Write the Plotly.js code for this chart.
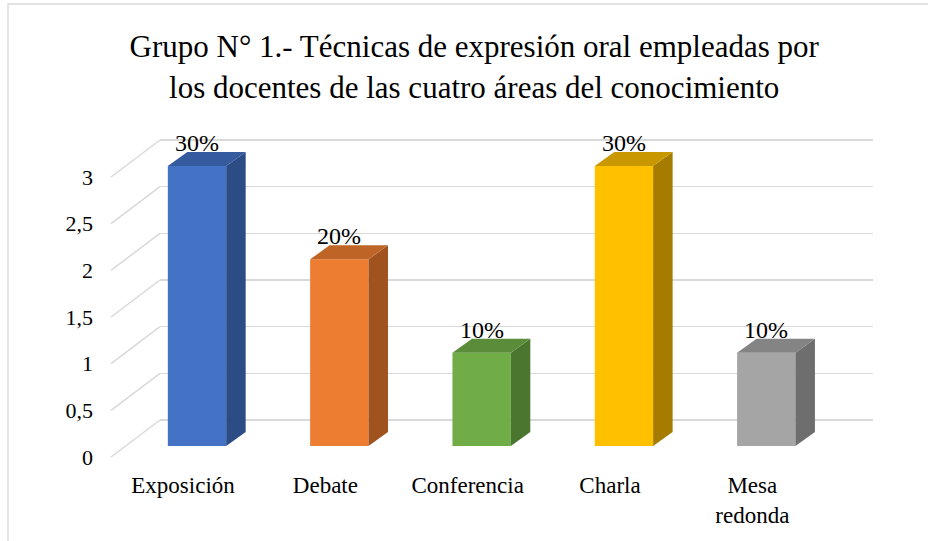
<!DOCTYPE html>
<html>
<head>
<meta charset="utf-8">
<script src="https://cdn.plot.ly/plotly-3.0.1.min.js"></script>
<style>html,body{margin:0;padding:0;background:#fff;}#chart{width:928px;height:541px;}</style>
</head>
<body>
<div id="chart"></div>
<script>
// ---- data ----
const categories = ['Exposición', 'Debate', 'Conferencia', 'Charla', 'Mesa<br>redonda'];
const values = [3, 2, 1, 3, 1];
const tickValues = [0, 0.5, 1, 1.5, 2, 2.5, 3];
const titleText = 'Grupo N° 1.- Técnicas de expresión oral empleadas por<br>los docentes de las cuatro áreas del conocimiento';

// ---- style ----
const frontColors = ['#4472C4', '#ED7D31', '#70AD47', '#FFC000', '#A5A5A5'];
const sideColors  = ['#2C4C86', '#A0531F', '#4B7630', '#A67C00', '#6E6E6E'];
const topColors   = ['#355A9E', '#BE6426', '#5A8C39', '#C99700', '#848484'];
const FONT = 'Liberation Serif';
const barW = 0.41;      // bar width in category units
const dX = 0.137;       // depth offset (category units)
const dY = 0.15;        // depth offset (value units)
const gridBackShift = 0.2786;  // back wall offset relative to bar scale
const frontShift = 0.3964;     // front edge below back wall

const total = values.reduce((a, b) => a + b, 0);
const xs = values.map((_, i) => i);

const traces = [];
// front faces
traces.push({
  type: 'bar', x: xs, y: values, width: barW,
  marker: {color: frontColors, line: {width: 0}},
  xaxis: 'x', yaxis: 'y2', hoverinfo: 'skip', showlegend: false
});
// side + top faces
values.forEach((v, i) => {
  const r = i + barW / 2, l = i - barW / 2;
  traces.push({
    type: 'scatter', mode: 'lines', fill: 'toself',
    x: [r, r + dX, r + dX, r, r], y: [0, dY, v + dY, v, 0],
    fillcolor: sideColors[i], line: {width: 0, color: sideColors[i]},
    xaxis: 'x', yaxis: 'y2', hoverinfo: 'skip', showlegend: false
  });
  traces.push({
    type: 'scatter', mode: 'lines', fill: 'toself',
    x: [l, l + dX, r + dX, r, l], y: [v, v + dY, v + dY, v, v],
    fillcolor: topColors[i], line: {width: 0, color: topColors[i]},
    xaxis: 'x', yaxis: 'y2', hoverinfo: 'skip', showlegend: false
  });
});
// carriers for label axes
traces.push({type: 'scatter', x: [], y: [], xaxis: 'x2', yaxis: 'y2', showlegend: false, hoverinfo: 'skip'});
traces.push({type: 'scatter', x: [], y: [], xaxis: 'x', yaxis: 'y3', showlegend: false, hoverinfo: 'skip'});

const yBarRange = [-0.2571, 3.7072];
const yGridRange = [yBarRange[0] - gridBackShift, yBarRange[1] - gridBackShift];
const yTickRange = [yGridRange[0] + frontShift, yGridRange[1] + frontShift];
const xRange = [-0.26, 4.75];
const xLabRange = [xRange[0] + 0.098, xRange[1] + 0.098];

const shapes = tickValues.map(v => ({
  type: 'line', xref: 'paper', yref: 'y', x0: 0, x1: -0.0687, y0: v, y1: v - frontShift,
  line: {color: '#d9d9d9', width: 1.5}, layer: 'below'
}));
shapes.push({
  type: 'rect', xref: 'paper', yref: 'paper', x0: -0.2132, x1: 1.09, y0: -0.22, y1: 1.2595,
  line: {color: '#d9d9d9', width: 1.3}, fillcolor: 'rgba(0,0,0,0)', layer: 'below'
});

const annotations = values.map((v, i) => ({
  x: i, y: v, xref: 'x', yref: 'y2', yshift: 23, showarrow: false,
  text: Math.round(v / total * 100) + '%', font: {family: FONT, size: 24, color: '#000'},
  yanchor: 'middle', xanchor: 'center'
}));

const layout = {
  width: 928, height: 541,
  margin: {l: 160, r: 55, t: 100, b: 71},
  paper_bgcolor: '#fff', plot_bgcolor: 'rgba(0,0,0,0)',
  separators: ',.',
  showlegend: false,
  font: {family: FONT, color: '#000'},
  title: {text: titleText, font: {family: FONT, size: 31, color: '#000'},
          x: 0.511, xanchor: 'center', xref: 'container', y: 0.894, yref: 'container', yanchor: 'middle'},
  xaxis: {range: xRange, showticklabels: false, showgrid: false, zeroline: false, showline: false, ticks: ''},
  xaxis2: {overlaying: 'x', anchor: 'y2', side: 'bottom', range: xLabRange, tickmode: 'array',
           tickvals: xs, ticktext: categories, showgrid: false, zeroline: false, showline: false, ticks: '',
           tickfont: {family: FONT, size: 23, color: '#000'}, ticklabelstandoff: -1},
  yaxis: {range: yGridRange, showgrid: true, gridcolor: '#d9d9d9', gridwidth: 1.5,
          zeroline: true, zerolinecolor: '#d9d9d9', zerolinewidth: 1.5,
          tickmode: 'array', tickvals: tickValues, showticklabels: false, ticks: '', showline: false},
  yaxis2: {overlaying: 'y', anchor: 'x', range: yBarRange, showgrid: false, zeroline: false,
           showticklabels: false, ticks: '', showline: false},
  yaxis3: {overlaying: 'y', anchor: 'x', range: yTickRange, showgrid: false, zeroline: false,
           tickmode: 'array', tickvals: tickValues, ticks: '', showline: false,
           tickfont: {family: FONT, size: 22, color: '#000'}, ticklabelstandoff: 66},
  shapes: shapes,
  annotations: annotations
};

Plotly.newPlot('chart', traces, layout, {staticPlot: true, displayModeBar: false});
</script>
</body>
</html>
